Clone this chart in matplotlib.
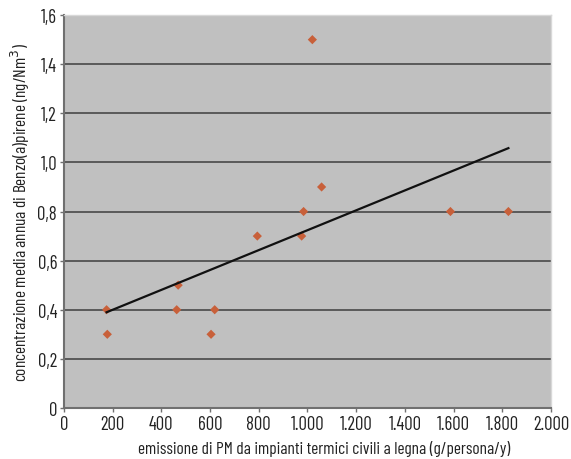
import numpy as np
import matplotlib
matplotlib.use("Agg")
from matplotlib import pyplot as plt
from matplotlib.ticker import FuncFormatter

# emissione PM (g/persona/y) vs concentrazione BaP (ng/Nm3)
emissione = [175, 178, 463, 469, 604, 619, 794, 976, 984, 1020, 1058, 1587, 1825]
concentrazione = [0.4, 0.3, 0.4, 0.5, 0.3, 0.4, 0.7, 0.7, 0.8, 1.5, 0.9, 0.8, 0.8]

plt.rcParams['font.family'] = ['Barlow Condensed', 'DejaVu Sans']


def main():
    fig = plt.figure(figsize=(5.71, 4.6), dpi=100)
    ax = fig.add_axes([0.112, 0.111, 0.853, 0.854])
    ax.set_facecolor('#c0c0c0')

    x = np.array(emissione)
    y = np.array(concentrazione)
    ax.scatter(x, y, marker='D', s=22, color='#c8603a', edgecolors='none', zorder=3)

    # linea di tendenza lineare
    m, q = np.polyfit(x, y, 1)
    xs = np.array([x.min(), x.max()])
    ax.plot(xs, m * xs + q, color='#111111', linewidth=1.6, zorder=4)

    ax.set_xlim(0, 2000)
    ax.set_ylim(0, 1.6)
    ax.set_xticks(np.arange(0, 2001, 200))
    ax.set_yticks(np.arange(0, 1.61, 0.2))
    ax.xaxis.set_major_formatter(FuncFormatter(lambda v, p: f"{int(v):,}".replace(",", ".")))
    ax.yaxis.set_major_formatter(FuncFormatter(lambda v, p: "0" if v == 0 else f"{v:.1f}".replace(".", ",")))

    for yy in np.arange(0.2, 1.5, 0.2):
        ax.axhline(yy, color='#5a5a5a', linewidth=1.4, zorder=1)

    for s in ['top', 'right']:
        ax.spines[s].set_color('#d8d8d8')
        ax.spines[s].set_linewidth(1.0)
    for s in ['left', 'bottom']:
        ax.spines[s].set_color('#707070')
        ax.spines[s].set_linewidth(1.5)

    ax.tick_params(axis='both', direction='out', length=3, width=1, color='#707070',
                   labelsize=13.5, labelcolor='#222222', pad=2)

    ax.set_xlabel('emissione di PM da impianti termici civili a legna (g/persona/y)',
                  fontsize=12.5, color='#222222')
    ax.xaxis.set_label_coords(0.534, -0.082)
    ax.set_ylabel('concentrazione media annua di Benzo(a)pirene (ng/Nm$^3$)',
                  fontsize=12.5, color='#222222', labelpad=4)

    fig.savefig('out.png', dpi=100, facecolor='white')


if __name__ == "__main__":
    main()
